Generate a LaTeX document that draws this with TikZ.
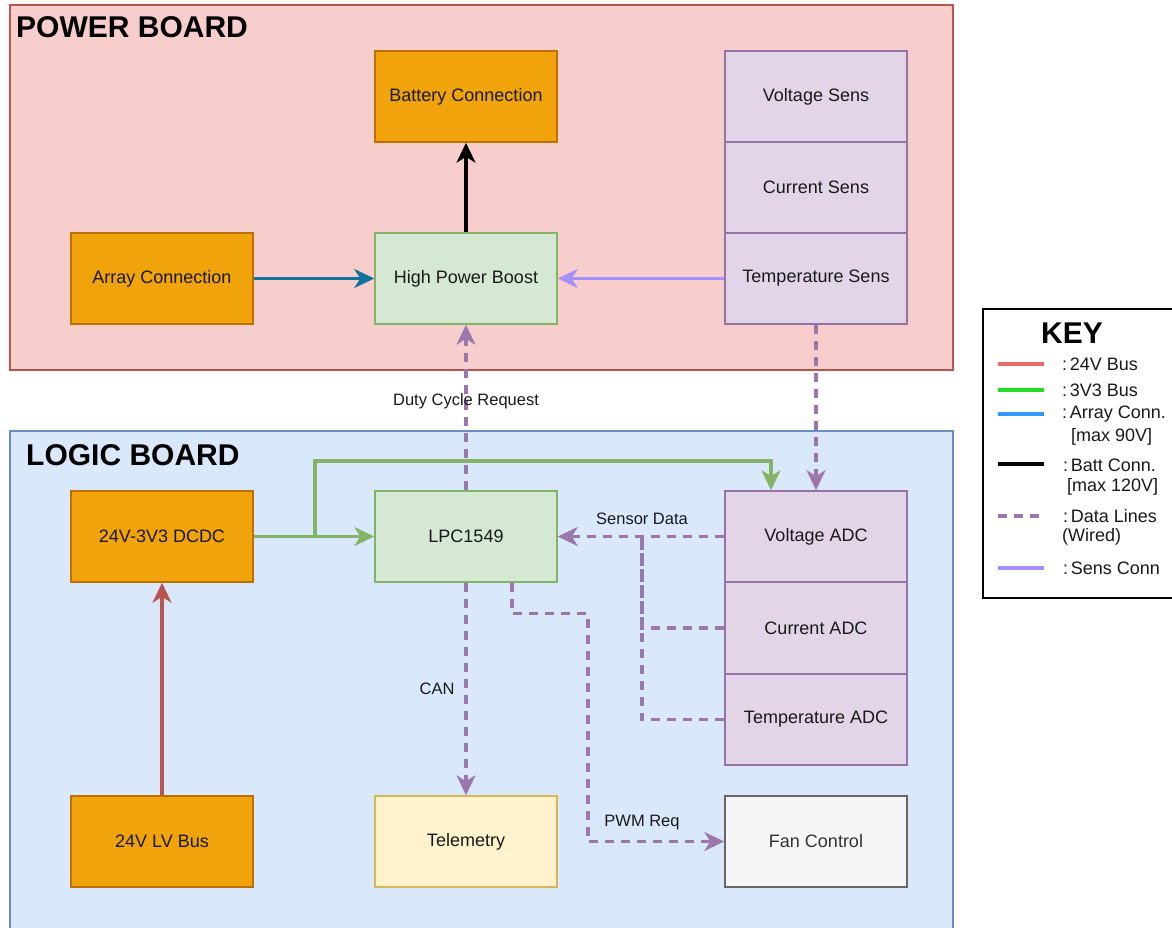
\documentclass[tikz,border=0pt]{standalone}
\usepackage{fontspec}
\setmainfont{Liberation Sans}
\usetikzlibrary{arrows.meta}
\definecolor{pwrfill}{HTML}{F8CECC}\definecolor{pwrline}{HTML}{B85450}
\definecolor{lgcfill}{HTML}{DAE8FC}\definecolor{lgcline}{HTML}{6C8EBF}
\definecolor{orgfill}{HTML}{F0A30A}\definecolor{orgline}{HTML}{BD7000}
\definecolor{grnfill}{HTML}{D5E8D4}\definecolor{grnline}{HTML}{82B366}
\definecolor{purfill}{HTML}{E1D5E7}\definecolor{purline}{HTML}{9673A6}
\definecolor{ylwfill}{HTML}{FFF2CC}\definecolor{ylwline}{HTML}{D6B656}
\definecolor{gryfill}{HTML}{F5F5F5}\definecolor{gryline}{HTML}{666666}
\definecolor{arrline}{HTML}{10739E}\definecolor{sensline}{HTML}{A68FFF}
\definecolor{dataline}{HTML}{9C77AC}
\definecolor{keyred}{HTML}{EA6B66}\definecolor{keygrn}{HTML}{22DD22}
\definecolor{keyblu}{HTML}{3399FF}
\begin{document}
\begin{tikzpicture}[x=1pt,y=-1pt,
box/.style={draw,line width=1.5pt,minimum width=182pt,minimum height=91pt,inner sep=0pt,
  font=\fontsize{18}{21}\selectfont,text=black!90},
org/.style={box,fill=orgfill,draw=orgline},
grn/.style={box,fill=grnfill,draw=grnline},
pur/.style={box,fill=purfill,draw=purline},
lbl/.style={font=\fontsize{16.5}{19}\selectfont,text=black!90},
keytxt/.style={anchor=west,inner sep=0pt,font=\fontsize{18}{21}\selectfont,text=black!90},
conn/.style={line width=3.2pt,-{Stealth[length=20pt,width=19pt,inset=6pt]}},
data/.style={conn,draw=dataline,dash pattern=on 9pt off 7pt},
datal/.style={data,-},
bus3/.style={conn,draw=grnline}]
\useasboundingbox (0,0) rectangle (1172,928);
\draw[fill=pwrfill,draw=pwrline,line width=1.5pt] (10,5) rectangle (953,370);
\draw[fill=lgcfill,draw=lgcline,line width=1.5pt] (10,431) rectangle (953,945);
\node[anchor=west,inner sep=0pt,font=\fontsize{30}{34}\selectfont\bfseries] (pb) at (16,27) {POWER BOARD};
\node[anchor=west,inner sep=0pt,font=\fontsize{30}{34}\selectfont\bfseries] (lb) at (26,455) {LOGIC BOARD};

\node[org] (bat) at (466,96.5) {Battery Connection};
\node[org] (arr) at (162,278.5) {Array Connection};
\node[grn] (hpb) at (466,278.5) {High Power Boost};
\node[pur] (vsens) at (816,96.5) {Voltage Sens};
\node[pur] (csens) at (816,187.5) {Current Sens};
\node[pur] (tsens) at (816,278.5) {Temperature Sens};
\node[org] (dcdc) at (162,536.5) {24V-3V3 DCDC};
\node[grn] (lpc) at (466,536.5) {LPC1549};
\node[pur] (vadc) at (816,536.5) {Voltage ADC};
\node[pur] (cadc) at (816,628) {Current ADC};
\node[pur] (tadc) at (816,719.5) {Temperature ADC};
\node[org] (lv) at (162,841.5) {24V LV Bus};
\node[box,fill=ylwfill,draw=ylwline] (tel) at (466,841.5) {Telemetry};
\node[box,fill=gryfill,draw=gryline,text=black!80] (fan) at (816,841.5) {Fan Control};

\draw[conn,draw=black] (hpb) -- (bat);
\draw[conn,draw=arrline] (arr) -- (hpb);
\draw[conn,draw=sensline] (tsens) -- (hpb);
\draw[data] (tsens) -- (vadc);
\draw[data] (lpc) -- (hpb);
\node[lbl] (duty) at (466,401) {Duty Cycle Request};
\draw[conn,draw=pwrline] (lv) -- (dcdc);
\coordinate (br) at (315,536.5);
\draw[bus3] (dcdc) -- (lpc);
\draw[bus3] (br) -- ++(0,-75.5) -| ([xshift=-45pt]vadc.north);
\draw[data] (vadc) -- (lpc);
\node[lbl] (sdat) at (642,519) {Sensor Data};
\coordinate (sd) at (642,536.5);
\draw[datal] (cadc.west) -| (sd);
\draw[datal] (tadc.west) -| (sd);
\draw[data] (lpc) -- (tel);
\node[lbl] (can) at (437,689) {CAN};
\draw[data] ([xshift=46pt]lpc.south) -- ++(0,31) -- ++(76,0) |- (fan);
\node[lbl] (pwm) at (642,823) {PWM Req};

\draw[line width=1.5pt,fill=white] (983,309) rectangle (1180,598);
\node[inner sep=0pt,font=\fontsize{30}{34}\selectfont\bfseries] (key) at (1072,333) {KEY};
\draw[line width=3.2pt,draw=keyred] (998,364) -- (1044,364);
\draw[line width=3.2pt,draw=keygrn] (998,390) -- (1044,390);
\draw[line width=3.2pt,draw=keyblu] (998,414) -- (1044,414);
\draw[line width=3.2pt,draw=black] (998,464) -- (1044,464);
\draw[datal] (998,516) -- (1044,516);
\draw[line width=3.2pt,draw=sensline] (998,568) -- (1044,568);
\node[keytxt] at (1062,364) {:\hspace{0.15em}24V Bus};
\node[keytxt] at (1062,390) {:\hspace{0.15em}3V3 Bus};
\node[keytxt] at (1062,414) {:\hspace{0.15em}Array Conn.};
\node[keytxt] at (1071,437) {[max 90V]};
\node[keytxt] at (1063,465) {:\hspace{0.15em}Batt Conn.};
\node[keytxt] at (1067,487) {[max 120V]};
\node[keytxt] at (1063,516) {:\hspace{0.15em}Data Lines};
\node[keytxt] at (1062,537) {(Wired)};
\node[keytxt] at (1063,568) {:\hspace{0.15em}Sens Conn};
\end{tikzpicture}
\end{document}
